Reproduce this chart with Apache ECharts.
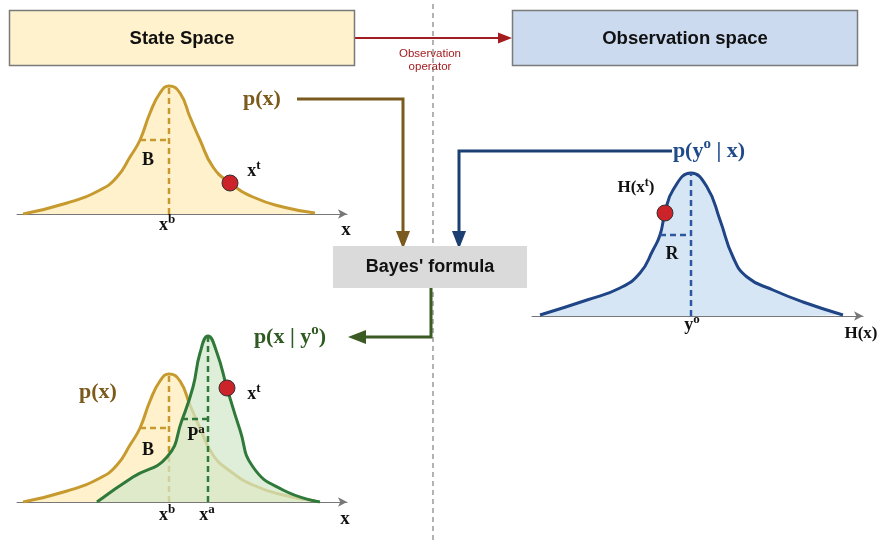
<!DOCTYPE html>
<html>
<head>
<meta charset="utf-8">
<script src="https://cdn.jsdelivr.net/npm/echarts@6/dist/echarts.min.js"></script>
<style>html,body{margin:0;padding:0;background:#fff}#c{width:879px;height:544px}</style>
</head>
<body>
<div id="c"></div>
<script>
// ---- data (x along state/observation axis, density height) ----
// prior p(x) (background), used in the top-left and bottom-left panels
const priorX = [6, 50, 83, 100, 113, 123, 133, 143, 152, 163, 173, 183, 196, 213, 236, 266, 298];
const priorY = [0, 11, 24, 37, 57, 74, 101, 121, 128, 121, 97, 74, 47, 31, 17, 7, 1];
const xb = 152, priorPeak = 128, priorB = [123, 74];
const xtState = 213, xtPrior = 31, xtPost = 114, xtPostX = 210;

// posterior p(x|y^o)
const postX = [80, 116, 150, 165, 176, 183, 191, 200, 210, 223, 236, 266, 303];
const postY = [0, 25, 45, 82, 115, 149, 166, 149, 114, 72, 35, 12, 0];
const xa = 191, postPeak = 166, postPa = [165, 83];

// likelihood p(y^o|x) in observation space
const obsX = [8, 55, 88, 108, 121, 128, 133, 141, 159, 175, 188, 201, 215, 241, 271, 311];
const obsY = [1, 16, 28, 43, 66, 81, 103, 126, 143, 129, 96, 59, 39, 26, 14, 1];
const yo = 159, obsPeak = 143, obsR = [128, 81], hxt = [133, 103];

const zip = (a, b) => a.map((v, i) => [v, b[i]]);

const SERIF = '"Liberation Serif", "DejaVu Serif", serif';
const SANS = '"Liberation Sans", Arial, sans-serif';
const BROWN = '#c69a2e', BROWN_T = '#7b5a1c', BLUE = '#1f4587', BLUE_T = '#1f4a8b', GREEN = '#2f7a3a', GREEN_T = '#2f5a22';

function axisX(gi, max) {
  return {gridIndex: gi, type: 'value', min: 0, max: max,
    axisLine: {show: true, onZero: false, symbol: ['none', 'arrow'], symbolSize: [7, 9], lineStyle: {color: '#777', width: 1}},
    axisTick: {show: false}, axisLabel: {show: false}, splitLine: {show: false}};
}
function axisY(gi, max) {
  return {gridIndex: gi, type: 'value', min: 0, max: max, show: false, splitLine: {show: false}};
}
function curve(gi, data, color, fill, z) {
  return {type: 'line', xAxisIndex: gi, yAxisIndex: gi, data: data, smooth: 0.5, symbol: 'none', z: z,
    lineStyle: {color: color, width: 3}, areaStyle: {color: fill, opacity: 1}, silent: true, animation: false};
}
function dash(gi, data, color, z) {
  return {type: 'line', xAxisIndex: gi, yAxisIndex: gi, data: data, symbol: 'none', z: z,
    lineStyle: {color: color, width: 2.5, type: [6, 4]}, silent: true, animation: false};
}
function dot(gi, data, z) {
  return {type: 'scatter', xAxisIndex: gi, yAxisIndex: gi, data: data, symbolSize: 16, z: z,
    itemStyle: {color: '#cc2229', borderColor: '#333', borderWidth: 1, opacity: 1}, silent: true, animation: false};
}

function txt(x, y, parts, size, color, family) {
  const rich = {
    n: {fontSize: size, fontWeight: 'bold', fontFamily: family, fill: color, lineHeight: size + 2},
    s: {fontSize: Math.round(size * 0.7), fontWeight: 'bold', fontFamily: family, fill: color, padding: [0, 0, Math.round(size * 0.62), 0], lineHeight: size + 2}
  };
  return {type: 'text', x: x, y: y, z: 50,
    style: {text: parts.map(p => '{' + (p[1] ? 's' : 'n') + '|' + p[0] + '}').join(''), rich: rich,
      align: 'center', verticalAlign: 'middle', fill: color}};
}

const graphics = [
  {type: 'line', z: 1, shape: {x1: 433, y1: 4, x2: 433, y2: 544}, style: {stroke: '#666', lineWidth: 1, lineDash: [5, 4]}},
  {type: 'rect', z: 5, shape: {x: 9.5, y: 10.5, width: 345, height: 55}, style: {fill: '#fff2cc', stroke: '#7a7a7a', lineWidth: 1.5}},
  {type: 'rect', z: 5, shape: {x: 512.5, y: 10.5, width: 345, height: 55}, style: {fill: '#cbdaef', stroke: '#7a7a7a', lineWidth: 1.5}},
  {type: 'rect', z: 5, shape: {x: 333, y: 246, width: 194, height: 42}, style: {fill: '#dadada'}},
  {type: 'text', z: 6, x: 182, y: 39, style: {text: 'State Space', font: 'bold 18.5px ' + SANS, fill: '#111', align: 'center', verticalAlign: 'middle'}},
  {type: 'text', z: 6, x: 685, y: 39, style: {text: 'Observation space', font: 'bold 18.5px ' + SANS, fill: '#111', align: 'center', verticalAlign: 'middle'}},
  {type: 'text', z: 6, x: 430, y: 267, style: {text: "Bayes' formula", font: 'bold 18px ' + SANS, fill: '#111', align: 'center', verticalAlign: 'middle'}},
  {type: 'line', z: 4, shape: {x1: 355, y1: 38, x2: 500, y2: 38}, style: {stroke: '#a31c1f', lineWidth: 2}},
  {type: 'polygon', z: 4, shape: {points: [[498, 32.5], [498, 43.5], [512, 38]]}, style: {fill: '#a31c1f'}},
  {type: 'text', z: 6, x: 430, y: 54, style: {text: 'Observation', font: '11.5px ' + SANS, fill: '#a31c1f', align: 'center', verticalAlign: 'middle'}},
  {type: 'text', z: 6, x: 430, y: 67, style: {text: 'operator', font: '11.5px ' + SANS, fill: '#a31c1f', align: 'center', verticalAlign: 'middle'}},
  {type: 'polyline', z: 4, shape: {points: [[297, 99], [403, 99], [403, 236]]}, style: {stroke: '#7a5a1e', lineWidth: 3, fill: null}},
  {type: 'polygon', z: 4, shape: {points: [[396, 231], [410, 231], [403, 249]]}, style: {fill: '#7a5a1e'}},
  {type: 'polyline', z: 4, shape: {points: [[672, 151], [459, 151], [459, 236]]}, style: {stroke: '#1c3f73', lineWidth: 3, fill: null}},
  {type: 'polygon', z: 4, shape: {points: [[452, 231], [466, 231], [459, 249]]}, style: {fill: '#1c3f73'}},
  {type: 'polyline', z: 4, shape: {points: [[431, 288], [431, 337], [362, 337]]}, style: {stroke: '#3c5a23', lineWidth: 3, fill: null}},
  {type: 'polygon', z: 4, shape: {points: [[366, 330], [366, 344], [348, 337]]}, style: {fill: '#3c5a23'}},
  txt(262, 99, [['p(x)', 0]], 22, BROWN_T, SERIF),
  txt(148, 160, [['B', 0]], 18, '#111', SERIF),
  txt(167, 225, [['x', 0], ['b', 1]], 18, '#111', SERIF),
  txt(254, 171, [['x', 0], ['t', 1]], 18, '#111', SERIF),
  txt(346, 230, [['x', 0]], 19, '#111', SERIF),
  txt(709, 151, [['p(y', 0], ['o', 1], [' | x)', 0]], 22, BLUE_T, SERIF),
  txt(636, 188, [['H(x', 0], ['t', 1], [')', 0]], 17, '#111', SERIF),
  txt(672, 254, [['R', 0]], 18, '#111', SERIF),
  txt(692, 325, [['y', 0], ['o', 1]], 18, '#111', SERIF),
  txt(861, 334, [['H(x)', 0]], 17, '#111', SERIF),
  txt(290, 337, [['p(x | y', 0], ['o', 1], [')', 0]], 22, GREEN_T, SERIF),
  txt(98, 392, [['p(x)', 0]], 22, BROWN_T, SERIF),
  txt(148, 450, [['B', 0]], 18, '#111', SERIF),
  txt(196, 435, [['P', 0], ['a', 1]], 18, '#111', SERIF),
  txt(254, 394, [['x', 0], ['t', 1]], 18, '#111', SERIF),
  txt(167, 515, [['x', 0], ['b', 1]], 18, '#111', SERIF),
  txt(207, 515, [['x', 0], ['a', 1]], 18, '#111', SERIF),
  txt(345, 519, [['x', 0]], 19, '#111', SERIF)
];

const option = {
  backgroundColor: '#ffffff',
  animation: false,
  grid: [
    {left: 17, top: 80, width: 330, height: 134},
    {left: 17, top: 330, width: 330, height: 172},
    {left: 532, top: 165, width: 331, height: 151}
  ],
  xAxis: [axisX(0, 330), axisX(1, 330), axisX(2, 331)],
  yAxis: [axisY(0, 134), axisY(1, 172), axisY(2, 151)],
  series: [
    curve(0, zip(priorX, priorY), BROWN, '#fef1cb', 2),
    dash(0, [[xb, 0], [xb, priorPeak]], BROWN, 3),
    dash(0, [priorB, [xb, priorB[1]]], BROWN, 3),
    dot(0, [[xtState, xtPrior]], 4),

    curve(1, zip(priorX, priorY), BROWN, '#fef1cb', 2),
    dash(1, [[xb, 0], [xb, priorPeak]], BROWN, 2),
    dash(1, [priorB, [xb, priorB[1]]], BROWN, 2),
    {type: 'line', xAxisIndex: 1, yAxisIndex: 1, data: zip(postX, postY), smooth: 0.5, symbol: 'none', z: 3,
      lineStyle: {color: GREEN, width: 3}, areaStyle: {color: 'rgba(211,231,201,0.72)', opacity: 1}, silent: true, animation: false},
    dash(1, [[xa, 0], [xa, postPeak]], GREEN, 4),
    dash(1, [postPa, [xa, postPa[1]]], GREEN, 4),
    dot(1, [[xtPostX, xtPost]], 5),

    curve(2, zip(obsX, obsY), BLUE, '#d7e6f4', 2),
    dash(2, [[yo, 0], [yo, obsPeak]], '#2c58a0', 3),
    dash(2, [obsR, [yo, obsR[1]]], '#2c58a0', 3),
    dot(2, [hxt], 4)
  ],
  graphic: graphics
};
const chart = echarts.init(document.getElementById('c'), null, {renderer: 'canvas'});
chart.setOption(option);
</script>
</body>
</html>
